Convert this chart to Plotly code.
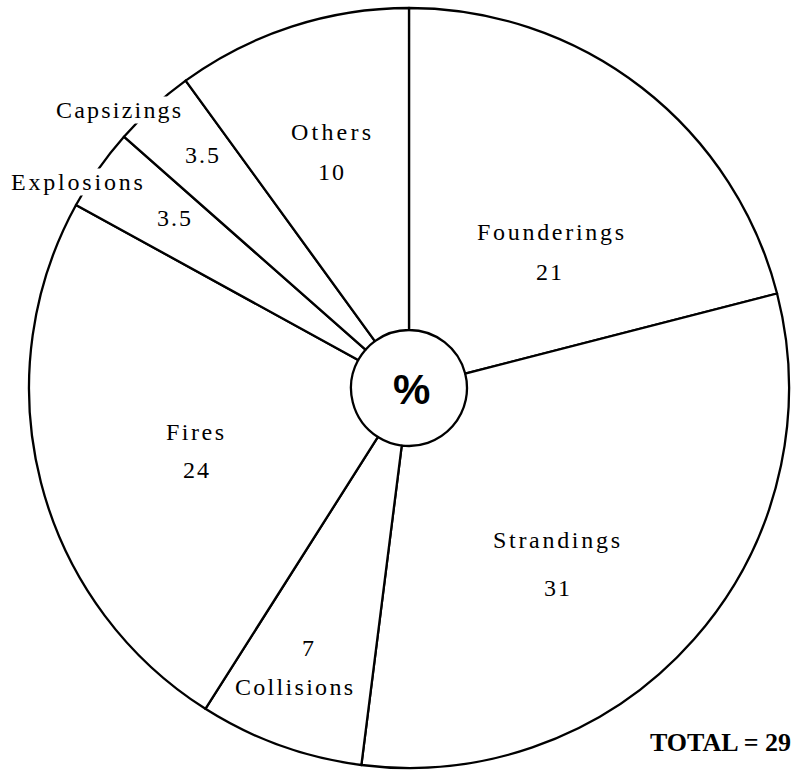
import plotly.graph_objects as go

# ---- data ----
categories = ["Founderings", "Strandings", "Collisions", "Fires", "Explosions", "Capsizings", "Others"]
percentages = [21, 31, 7, 24, 3.5, 3.5, 10]
value_labels = ["21", "31", "7", "24", "3.5", "3.5", "10"]
total_text = "TOTAL = 29"

# ---- layout constants ----
W, H = 804, 776
CX, CY, R = 409, 388, 380  # pie centre and radius in pixels
HOLE_R = 58

# text anchor positions (pixels) for names and values, and letter spacing of names
name_pos = [(552, 232), (558, 540), (295, 687), (196, 432), (78, 182), (119, 110), (332, 132)]
value_pos = [(550, 272), (558, 588), (309, 648), (197, 470), (175, 218), (203, 155), (332, 172)]
name_spacing = [2.7, 2.7, 2.3, 2.5, 2.8, 2.2, 3.2]


def px(x, y):
    return x / W, 1 - y / H


fig = go.Figure(
    go.Pie(
        labels=categories,
        values=percentages,
        sort=False,
        direction="clockwise",
        rotation=0,
        hole=HOLE_R / R,
        textinfo="none",
        hoverinfo="label+value",
        marker=dict(colors=["white"] * len(categories), line=dict(color="black", width=2.3)),
        domain=dict(x=[(CX - R) / W, (CX + R) / W], y=[(H - CY - R) / H, (H - CY + R) / H]),
        showlegend=False,
    )
)

serif = "Liberation Serif"
ann = []
for name, (nx, ny), sp, val, (vx, vy) in zip(categories, name_pos, name_spacing, value_labels, value_pos):
    x, y = px(nx, ny)
    ann.append(dict(
        x=x, y=y, xref="paper", yref="paper", showarrow=False,
        text=f'<span style="letter-spacing:{sp}px">{name}</span>',
        font=dict(family=serif, size=24, color="black"),
        bgcolor="white", borderpad=0,
        xanchor="center", yanchor="middle",
    ))
    x, y = px(vx, vy)
    ann.append(dict(
        x=x, y=y, xref="paper", yref="paper", showarrow=False,
        text=f'<span style="letter-spacing:2px">{val}</span>',
        font=dict(family=serif, size=24, color="black"),
        xanchor="center", yanchor="middle",
    ))

x, y = px(CX + 2, CY + 1)
ann.append(dict(x=x, y=y, xref="paper", yref="paper", showarrow=False, text="<b>%</b>",
                font=dict(family="Liberation Sans", size=42, color="black"),
                xanchor="center", yanchor="middle"))
x, y = px(793, 742)
ann.append(dict(x=x, y=y, xref="paper", yref="paper", showarrow=False, text=f"<b>{total_text}</b>",
                font=dict(family=serif, size=26, color="black"),
                xanchor="right", yanchor="middle"))

fig.update_layout(
    width=W, height=H,
    margin=dict(l=0, r=0, t=0, b=0),
    paper_bgcolor="white", plot_bgcolor="white",
    annotations=ann,
)

fig.write_html(
    "out.html",
    config={"displayModeBar": False},
    post_script="document.body.style.margin='0';document.body.style.overflow='hidden';",
)
